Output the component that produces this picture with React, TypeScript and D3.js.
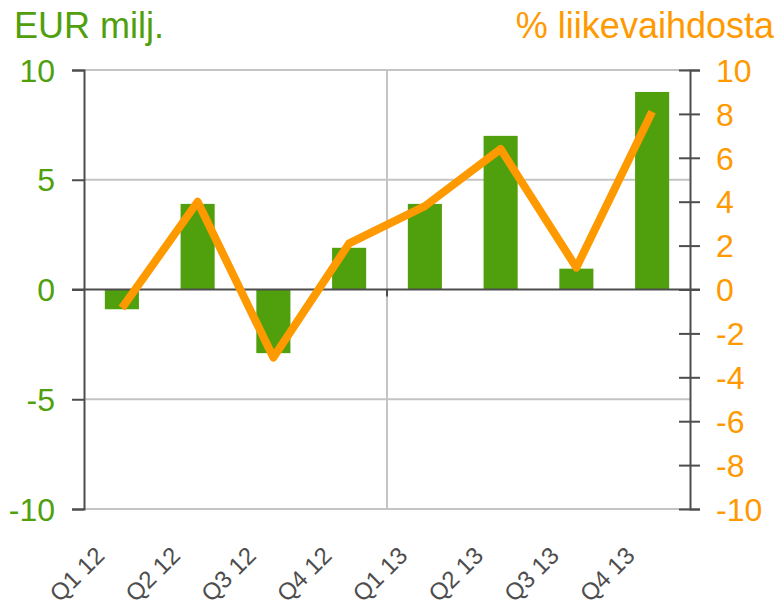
import React, { useEffect, useRef } from 'react';
import * as d3 from 'd3';

const quarters = ['Q1 12', 'Q2 12', 'Q3 12', 'Q4 12', 'Q1 13', 'Q2 13', 'Q3 13', 'Q4 13'];
const eurMilj = [-0.9, 3.9, -2.9, 1.9, 3.9, 7.0, 0.95, 9.0];
const pctOfSales = [-0.85, 4.0, -3.1, 2.1, 3.8, 6.4, 1.0, 8.1];
const leftTicks = [-10, -5, 0, 5, 10];
const rightTicks = [-10, -8, -6, -4, -2, 0, 2, 4, 6, 8, 10];

export default function App() {
  const chartRef = useRef(null);

  useEffect(() => {
    const svg = d3.select(chartRef.current);
    svg.selectAll('*').remove();

    const margin = { top: 70, right: 89, bottom: 96, left: 84 };
    const width = 779;
    const height = 605;

    const green = '#50a00e';
    const orange = '#ff9900';
    const dark = '#4d4d4d';
    const grid = '#c4c4c4';
    const font = '"Liberation Sans", Arial, sans-serif';

    const x = d3.scaleBand()
      .domain(quarters)
      .range([margin.left, width - margin.right])
      .paddingInner(0.55)
      .paddingOuter(0.275);

    const yL = d3.scaleLinear().domain([-10, 10]).range([height - margin.bottom, margin.top]);
    const yR = d3.scaleLinear().domain([-10, 10]).range([height - margin.bottom, margin.top]);

    const x0 = margin.left;
    const x1 = width - margin.right;

    // gridlines
    svg.append('g')
      .selectAll('line')
      .data(leftTicks.filter(d => d !== 0))
      .join('line')
      .attr('x1', x0).attr('x2', x1)
      .attr('y1', d => yL(d)).attr('y2', d => yL(d))
      .attr('stroke', grid).attr('stroke-width', 2);

    const mid = x0 + x.step() * 4;
    svg.append('line')
      .attr('x1', mid).attr('x2', mid)
      .attr('y1', yL(10)).attr('y2', yL(-10))
      .attr('stroke', grid).attr('stroke-width', 2);

    // bars
    svg.append('g')
      .selectAll('rect')
      .data(eurMilj)
      .join('rect')
      .attr('x', (d, i) => x(quarters[i]))
      .attr('width', x.bandwidth())
      .attr('y', d => yL(Math.max(0, d)))
      .attr('height', d => Math.abs(yL(d) - yL(0)))
      .attr('fill', green);

    // zero line + year tick
    svg.append('line')
      .attr('x1', x0 - 12).attr('x2', x1 + 10)
      .attr('y1', yL(0)).attr('y2', yL(0))
      .attr('stroke', dark).attr('stroke-width', 2);
    svg.append('line')
      .attr('x1', mid).attr('x2', mid)
      .attr('y1', yL(0)).attr('y2', yL(0) + 7)
      .attr('stroke', dark).attr('stroke-width', 2);

    // left axis
    const axL = svg.append('g').attr('transform', `translate(${x0},0)`)
      .call(d3.axisLeft(yL).tickValues(leftTicks).tickSize(12).tickPadding(17).tickFormat(d => String(d)));
    axL.select('.domain').attr('stroke', dark).attr('stroke-width', 2);
    axL.selectAll('.tick line').attr('stroke', dark).attr('stroke-width', 2);
    axL.selectAll('.tick text')
      .attr('fill', green).attr('font-size', 32).attr('font-family', font).attr('dy', '0.35em');

    // right axis
    const axR = svg.append('g').attr('transform', `translate(${x1},0)`)
      .call(d3.axisRight(yR).tickValues(rightTicks).tickSize(10).tickPadding(16).tickFormat(d => String(d)));
    axR.select('.domain').attr('stroke', dark).attr('stroke-width', 2);
    axR.selectAll('.tick line').attr('x1', -11).attr('stroke', dark).attr('stroke-width', 2);
    axR.selectAll('.tick text')
      .attr('fill', orange).attr('font-size', 32).attr('font-family', font).attr('dy', '0.35em');

    // line
    const line = d3.line()
      .x((d, i) => x(quarters[i]) + x.bandwidth() / 2)
      .y(d => yR(d));
    svg.append('path')
      .datum(pctOfSales)
      .attr('fill', 'none')
      .attr('stroke', orange)
      .attr('stroke-width', 8)
      .attr('stroke-linejoin', 'round')
      .attr('d', line);

    // category labels
    svg.append('g')
      .selectAll('text')
      .data(quarters)
      .join('text')
      .attr('transform', d => `translate(${x(d) + x.bandwidth() / 2 - 16},557) rotate(-45)`)
      .attr('text-anchor', 'end')
      .attr('fill', dark)
      .attr('font-size', 24)
      .attr('font-family', font)
      .text(d => d);

    // titles
    svg.append('text')
      .attr('x', 14).attr('y', 38)
      .attr('fill', green).attr('font-size', 36).attr('font-family', font)
      .text('EUR milj.');
    svg.append('text')
      .attr('x', 774).attr('y', 38)
      .attr('text-anchor', 'end')
      .attr('fill', orange).attr('font-size', 36).attr('font-family', font)
      .text('% liikevaihdosta');
  }, []);

  return (
    <svg
      ref={chartRef}
      width={779}
      height={605}
      style={{ position: 'absolute', left: 0, top: 0, background: '#fff' }}
    />
  );
}
